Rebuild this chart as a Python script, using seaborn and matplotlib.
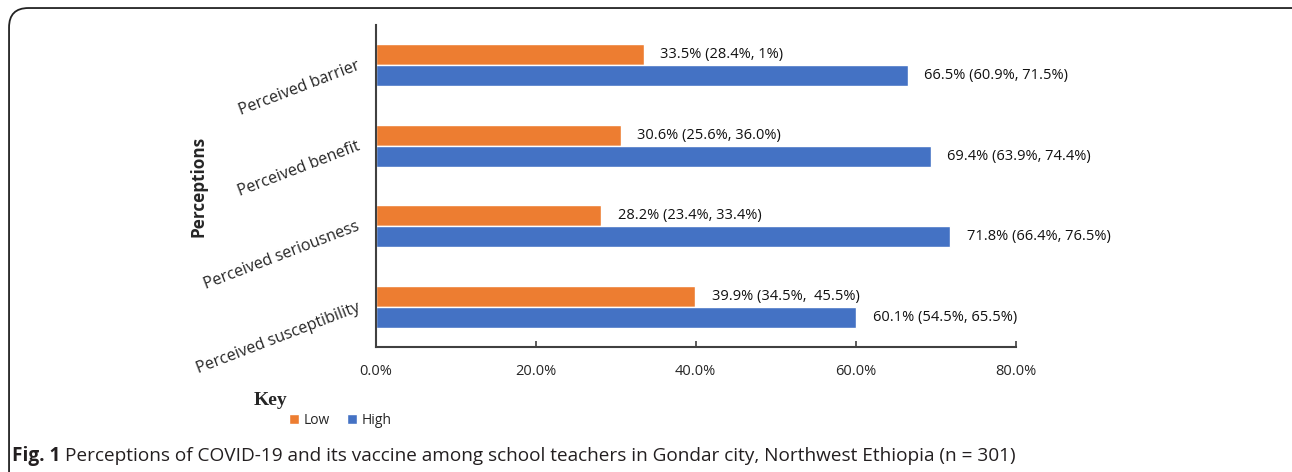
import pandas as pd
import seaborn as sns
import matplotlib.pyplot as plt
from matplotlib.patches import FancyBboxPatch
from matplotlib.ticker import FuncFormatter

# Data
perceptions = ['Perceived barrier', 'Perceived benefit',
               'Perceived seriousness', 'Perceived susceptibility']
low_values = [33.5, 30.6, 28.2, 39.9]
high_values = [66.5, 69.4, 71.8, 60.1]
low_labels = ['33.5% (28.4%, 1%)', '30.6% (25.6%, 36.0%)',
              '28.2% (23.4%, 33.4%)', '39.9% (34.5%,  45.5%)']
high_labels = ['66.5% (60.9%, 71.5%)', '69.4% (63.9%, 74.4%)',
               '71.8% (66.4%, 76.5%)', '60.1% (54.5%, 65.5%)']
levels = ['Low', 'High']
colors = {'Low': '#ED7D31', 'High': '#4472C4'}

df = pd.DataFrame({
    'perception': perceptions * 2,
    'level': ['Low'] * len(perceptions) + ['High'] * len(perceptions),
    'value': low_values + high_values,
})

sns.set_style('white')
plt.rcParams['font.family'] = ['Open Sans', 'DejaVu Sans']

fig = plt.figure(figsize=(12.92, 4.72), dpi=100)
ax = fig.add_axes([0.291, 0.265, 0.495, 0.682])

sns.barplot(data=df, y='perception', x='value', hue='level', order=perceptions,
            hue_order=levels, palette=colors, orient='h', width=0.52,
            saturation=1, ax=ax)

# value labels with confidence intervals
for container, labels in zip(ax.containers, [low_labels, high_labels]):
    ax.bar_label(container, labels=labels, padding=12, fontsize=10.5, color='#111111')

ax.set_xlim(0, 80)
ax.set_ylim(3.5, -0.5)
ax.set_xticks([0, 20, 40, 60, 80])
ax.xaxis.set_major_formatter(FuncFormatter(lambda v, p: f'{v:.1f}%'))
ax.tick_params(axis='x', direction='in', length=4, width=1.2, color='#404040',
               labelsize=10.5, pad=12, bottom=True)
ax.tick_params(axis='y', length=0, labelsize=11.5, pad=12)
for lbl in ax.get_yticklabels():
    lbl.set_rotation(21)
    lbl.set_ha('right')
    lbl.set_va('center')
    lbl.set_rotation_mode('anchor')

ax.set_xlabel('')
ax.set_ylabel('Perceptions', fontsize=12.3, fontweight='bold')
ax.yaxis.set_label_coords(-0.264, 0.5)
for side in ['top', 'right']:
    ax.spines[side].set_visible(False)
for side in ['left', 'bottom']:
    ax.spines[side].set_color('#404040')
    ax.spines[side].set_linewidth(1.5)

# legend with a separate "Key" heading
handles, _ = ax.get_legend_handles_labels()
ax.legend(handles, levels, loc='center left', bbox_to_anchor=(0.224, 0.11),
          bbox_transform=fig.transFigure, ncol=2, frameon=False, fontsize=10,
          handlelength=0.7, handleheight=0.7, handletextpad=0.35, columnspacing=1.2,
          borderpad=0, borderaxespad=0)
fig.text(0.196, 0.152, 'Key', fontsize=14, fontweight='bold',
         family='Liberation Serif', va='center', ha='left')

# caption
renderer = fig.canvas.get_renderer()
cap_bold = fig.text(0.009, 0.034, 'Fig. 1', fontsize=13.7, fontweight='bold',
                    color='#231F20', va='center', ha='left')
bb = cap_bold.get_window_extent(renderer=renderer)
fig.text(bb.x1 / fig.bbox.width + 0.004, 0.034,
         'Perceptions of COVID-19 and its vaccine among school teachers in Gondar city, '
         'Northwest Ethiopia (n = 301)',
         fontsize=13.7, color='#231F20', va='center', ha='left')

# rounded border around the figure panel
border = FancyBboxPatch((0.007, -0.05), 1.05, 1.033, boxstyle='round,pad=0,rounding_size=0.015',
                        transform=fig.transFigure, fill=False, edgecolor='#222222',
                        linewidth=1.3, mutation_aspect=12.92 / 4.72)
fig.patches.append(border)

fig.savefig('out.png', dpi=100)
